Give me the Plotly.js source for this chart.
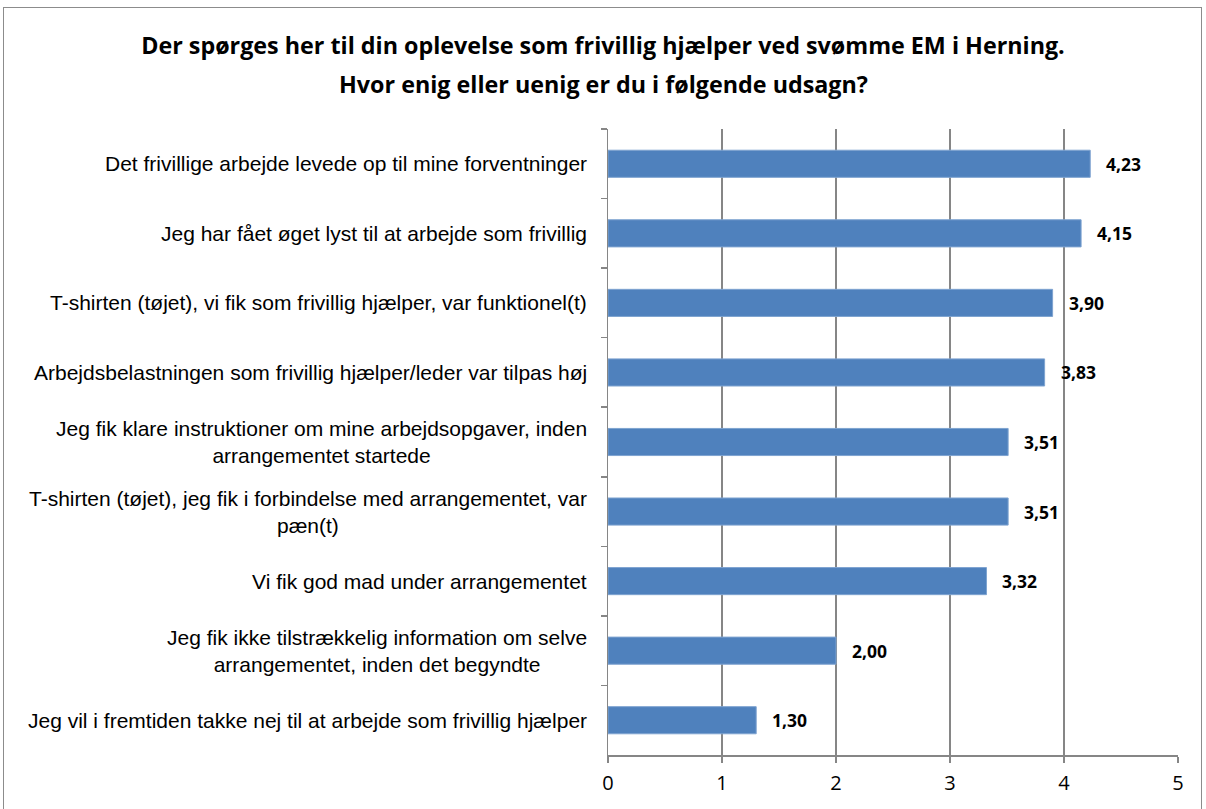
<!DOCTYPE html>
<html>
<head>
<meta charset="utf-8">
<script src="https://cdn.plot.ly/plotly-3.0.1.min.js"></script>
<style>
  html, body { margin: 0; padding: 0; background: #fff; }
  #frame { position: absolute; left: 3px; top: 7px; width: 1199px; height: 820px; border: 1px solid #8c8c8c; box-sizing: border-box; }
  #chart { position: absolute; left: 0; top: 0; width: 1206px; height: 809px; }
</style>
</head>
<body>
<div id="frame"></div>
<div id="chart"></div>
<script>
const categories = [
  "Det frivillige arbejde levede op til mine forventninger",
  "Jeg har fået øget lyst til at arbejde som frivillig",
  "T-shirten (tøjet), vi fik som frivillig hjælper, var funktionel(t)",
  "Arbejdsbelastningen som frivillig hjælper/leder var tilpas høj",
  "Jeg fik klare instruktioner om mine arbejdsopgaver, inden<br>arrangementet startede",
  "T-shirten (tøjet), jeg fik i forbindelse med arrangementet, var<br>pæn(t)",
  "Vi fik god mad under arrangementet",
  "Jeg fik ikke tilstrækkelig information om selve<br>arrangementet, inden det begyndte",
  "Jeg vil i fremtiden takke nej til at arbejde som frivillig hjælper"
];
const values = [4.23, 4.15, 3.90, 3.83, 3.51, 3.51, 3.32, 2.00, 1.30];
const valueLabels = ["4,23", "4,15", "3,90", "3,83", "3,51", "3,51", "3,32", "2,00", "1,30"];
const xTicks = [0, 1, 2, 3, 4, 5];
const titleLine1 = "Der spørges her til din oplevelse som frivillig hjælper ved svømme EM i Herning.";
const titleLine2 = "Hvor enig eller uenig er du i følgende udsagn?";

const boldFont = "Open Sans, Liberation Sans, Arial, sans-serif";
const gridColor = "#868686";

const trace = {
  type: "bar",
  orientation: "h",
  x: values,
  y: categories,
  marker: { color: "#4F81BD", line: { color: "#7EA3D0", width: 1 } },
  hoverinfo: "skip"
};

const annotations = [];
categories.forEach((c, i) => {
  annotations.push({
    x: 0, xref: "paper", y: c, yref: "y",
    text: c, showarrow: false, xanchor: "right", align: "center",
    xshift: -19,
    font: { family: "Liberation Sans, Arial, sans-serif", size: 21, color: "#000" }
  });
  annotations.push({
    x: values[i], xref: "x", y: c, yref: "y",
    text: "<b>" + valueLabels[i] + "</b>", showarrow: false, xanchor: "left",
    xshift: 14,
    font: { family: boldFont, size: 17.5, color: "#000" }
  });
});
// second title line
annotations.push({
  x: 0.5, xref: "paper", y: 1, yref: "paper",
  xshift: 603 - (608 + 570 / 2), yshift: 129 - 84,
  xanchor: "center", yanchor: "middle", showarrow: false,
  text: "<b>" + titleLine2 + "</b>",
  font: { family: boldFont, size: 23.3, color: "#000" }
});

const layout = {
  width: 1206, height: 809,
  paper_bgcolor: "rgba(0,0,0,0)",
  plot_bgcolor: "#fff",
  margin: { l: 608, r: 28, t: 129, b: 54 },
  bargap: 0.61,
  showlegend: false,
  title: {
    text: "<b>" + titleLine1 + "</b>",
    x: 0.5, xanchor: "center", xref: "container",
    y: 1 - 46 / 809, yref: "container", yanchor: "middle",
    font: { family: boldFont, size: 23.3, color: "#000" }
  },
  xaxis: {
    range: [0, 5],
    tickvals: xTicks,
    ticktext: xTicks.map(String),
    showgrid: true, gridcolor: gridColor, gridwidth: 1.5,
    zeroline: false,
    showline: true, linecolor: gridColor, linewidth: 1.5,
    ticks: "outside", ticklen: 6, tickcolor: gridColor, tickwidth: 1.5,
    ticklabelstandoff: 3,
    tickfont: { family: "Open Sans, sans-serif", size: 20, color: "#000" },
    fixedrange: true
  },
  yaxis: {
    type: "category",
    autorange: "reversed",
    showticklabels: false,
    showgrid: false, zeroline: false,
    showline: true, linecolor: gridColor, linewidth: 1.5,
    ticks: "outside", tickson: "boundaries", ticklen: 6, tickcolor: gridColor, tickwidth: 1.5,
    fixedrange: true
  },
  annotations: annotations
};

Plotly.newPlot("chart", [trace], layout, { displayModeBar: false, staticPlot: true });
</script>
</body>
</html>
